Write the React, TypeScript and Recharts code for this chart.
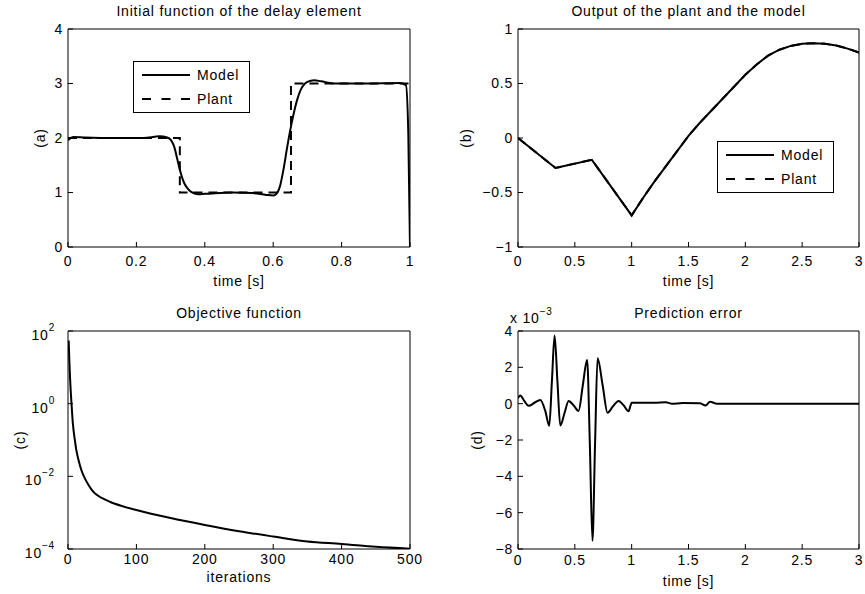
import { Legend, Line, LineChart, XAxis, YAxis } from "recharts";

const FONT = '"Liberation Sans", Arial, Helvetica, sans-serif';
const INK = "#000";
const H = 297;

// (a) initial function of the delay element
const timeA = [0, 0.015, 0.05, 0.14, 0.22, 0.268, 0.29, 0.3, 0.31, 0.32, 0.33, 0.34, 0.35, 0.36, 0.38, 0.4, 0.48, 0.54, 0.58, 0.6, 0.61, 0.62, 0.63, 0.64, 0.65, 0.66, 0.67, 0.68, 0.69, 0.7, 0.72, 0.74, 0.78, 0.87, 0.97, 0.988, 0.995, 1];
const modelA = [1.96, 2.02, 2.01, 2.0, 2.0, 2.03, 2.01, 1.97, 1.85, 1.6, 1.35, 1.17, 1.07, 1.01, 0.97, 0.975, 1.0, 0.99, 0.955, 0.945, 0.98, 1.12, 1.42, 1.8, 2.15, 2.45, 2.7, 2.88, 2.98, 3.03, 3.06, 3.04, 3.0, 3.0, 3.01, 2.97, 2.1, 0];
const plantTimeA = [0, 0.327, 0.327, 0.652, 0.652, 1];
const plantA = [2, 2, 1, 1, 3, 3];

// (b) output of the plant and the model
const timeB = [0, 0.33, 0.65, 1.0, 1.1, 1.2, 1.3, 1.4, 1.5, 1.6, 1.7, 1.8, 1.9, 2.0, 2.1, 2.2, 2.3, 2.4, 2.5, 2.6, 2.7, 2.8, 2.9, 3.0];
const modelB = [0, -0.275, -0.2, -0.71, -0.55, -0.4, -0.26, -0.12, 0.02, 0.14, 0.25, 0.36, 0.47, 0.58, 0.675, 0.755, 0.81, 0.845, 0.864, 0.87, 0.864, 0.848, 0.82, 0.785];
const plantB = [0, -0.275, -0.2, -0.71, -0.55, -0.4, -0.26, -0.12, 0.02, 0.14, 0.25, 0.36, 0.47, 0.58, 0.675, 0.755, 0.81, 0.845, 0.864, 0.87, 0.864, 0.848, 0.82, 0.785];

// (c) objective function
const iterC = [1, 2, 3, 4, 5, 7, 10, 12, 15, 20, 25, 30, 35, 41, 50, 61, 80, 100, 150, 200, 250, 300, 350, 400, 450, 500];
const objC = [55, 15, 5, 2.2, 1.1, 0.3, 0.1, 0.055, 0.03, 0.014, 0.0085, 0.0058, 0.0042, 0.0032, 0.0025, 0.002, 0.0015, 0.00118, 0.00071, 0.00046, 0.00031, 0.00022, 0.00016, 0.000138, 0.000115, 0.000102];

// (d) prediction error, in units of 1e-3
const timeD = [0, 0.02, 0.055, 0.094, 0.145, 0.196, 0.24, 0.275, 0.298, 0.322, 0.347, 0.372, 0.41, 0.445, 0.49, 0.533, 0.57, 0.608, 0.632, 0.655, 0.678, 0.7, 0.745, 0.788, 0.835, 0.885, 0.93, 0.973, 0.99, 1.0, 1.2, 1.3, 1.35, 1.45, 1.6, 1.65, 1.69, 1.75, 2.0, 2.5, 3.0];
const errD = [0.3, 0.45, 0.15, -0.12, 0.05, 0.2, -0.4, -1.22, 1.2, 3.75, 1.2, -1.2, -0.5, 0.15, -0.1, -0.4, 1.0, 2.4, -2.2, -7.55, -2.2, 2.5, 1.0, -0.5, -0.15, 0.15, -0.1, -0.42, -0.1, 0.05, 0.05, 0.08, 0.0, 0.03, 0.02, -0.1, 0.1, 0.0, 0.0, 0.0, 0.0];

const ticksA = [0, 0.2, 0.4, 0.6, 0.8, 1];
const ticksT = [0, 0.5, 1, 1.5, 2, 2.5, 3];
const ticksIter = [0, 100, 200, 300, 400, 500];
const yTicksA = [0, 1, 2, 3, 4];
const yTicksB = [-1, -0.5, 0, 0.5, 1];
const yTicksC = [1e-4, 1e-2, 1, 100];
const yTicksD = [-8, -6, -4, -2, 0, 2, 4];

type Pt = { x: number; y: number };
type Series = { name: string; data: Pt[]; dashed?: boolean; curve: "monotone" | "linear" };

const zip = (xs: number[], ys: number[]): Pt[] => xs.map((x, i) => ({ x, y: ys[i] }));
const fmt = (v: number) => (v < 0 ? `\u2212${Math.abs(v)}` : `${v}`);

const LegendBox = () => (
	<div
		style={{
			width: 117,
			height: 52,
			border: "1px solid #000",
			background: "#fff",
			boxSizing: "border-box",
			position: "relative",
		}}>
		{[
			{ name: "Model", dashed: false },
			{ name: "Plant", dashed: true },
		].map((item, i) => (
			<div
				key={item.name}
				style={{ position: "absolute", left: 8, top: 3 + i * 24, height: 20, display: "flex", alignItems: "center" }}>
				<svg width={48} height={4}>
					<line x1={0} x2={48} y1={2} y2={2} stroke={INK} strokeWidth={2} strokeDasharray={item.dashed ? "9 10.5" : undefined} />
				</svg>
				<span style={{ marginLeft: 7, lineHeight: "20px" }}>{item.name}</span>
			</div>
		))}
	</div>
);

const LogTick = (props: any) => {
	const { x, y, payload } = props;
	const e = Math.round(Math.log10(payload.value));
	return (
		<text x={x - 8} y={y + 4} textAnchor="end" dominantBaseline="central" fill={INK}>
			10
			<tspan dy={-8} fontSize={10}>
				{e < 0 ? `\u2212${-e}` : e}
			</tspan>
		</text>
	);
};

type Spec = {
	x: number;
	y: number;
	w: number;
	plot: [number, number, number, number];
	title: string;
	xLabel: string;
	xTickGap: number;
	xLabelGap: number;
	yLabel: string;
	yLabelDist: number;
	xDomain: [number, number];
	xTicks: number[];
	yDomain: [number, number];
	yTicks: number[];
	log?: boolean;
	exponent?: boolean;
	series: Series[];
	legendAt?: [number, number];
};

const Panel = ({ s }: { s: Spec }) => {
	const [pl, pt, pr, pb] = s.plot;
	const margin = { top: pt, left: pl - 60, right: s.w - pr, bottom: H - pb - 25 };
	const yScale = s.log ? "log" : "linear";
	const yLabelContent = (props: any) => {
		const vb = props.viewBox;
		const cx = vb.x + vb.width - s.yLabelDist;
		const cy = vb.y + vb.height / 2;
		return (
			<g>
				<text x={cx} y={cy} transform={`rotate(-90 ${cx} ${cy})`} textAnchor="middle" dominantBaseline="central" fill={INK}>
					{s.yLabel}
				</text>
				{s.exponent && (
					<text x={vb.x + vb.width - 8} y={vb.y - 8} fill={INK}>
						x 10
						<tspan dy={-8} fontSize={10}>
							{"\u22123"}
						</tspan>
					</text>
				)}
			</g>
		);
	};
	return (
		<div style={{ position: "absolute", left: s.x, top: s.y, width: s.w, height: H }}>
			<div
				style={{
					position: "absolute",
					left: pl,
					width: pr - pl,
					top: pt - 27,
					lineHeight: "18px",
					textAlign: "center",
				}}>
				{s.title}
			</div>
			<LineChart width={s.w} height={H} margin={margin}>
				<XAxis
					xAxisId="b"
					dataKey="x"
					type="number"
					domain={s.xDomain}
					ticks={s.xTicks}
					interval={0}
					allowDataOverflow
					tickFormatter={fmt}
					tickSize={-5}
					tickMargin={s.xTickGap}
					stroke={INK}
					tick={{ fill: INK }}
					height={25}
					label={{ value: s.xLabel, position: "bottom", offset: s.xLabelGap, fill: INK }}
				/>
				{/* mirrored twins close the box and carry the inward ticks on top and right */}
				<XAxis
					xAxisId="t"
					orientation="top"
					mirror
					dataKey="x"
					type="number"
					domain={s.xDomain}
					ticks={s.xTicks}
					interval={0}
					allowDataOverflow
					tick={false}
					tickSize={5}
					stroke={INK}
				/>
				<YAxis
					yAxisId="l"
					dataKey="y"
					type="number"
					scale={yScale}
					domain={s.yDomain}
					ticks={s.yTicks}
					interval={0}
					allowDataOverflow
					tickFormatter={fmt}
					tickSize={-5}
					tickMargin={10}
					stroke={INK}
					tick={s.log ? (p: any) => <LogTick {...p} /> : { fill: INK }}
					width={60}
					label={yLabelContent}
				/>
				<YAxis
					yAxisId="r"
					orientation="right"
					mirror
					dataKey="y"
					type="number"
					scale={yScale}
					domain={s.yDomain}
					ticks={s.yTicks}
					interval={0}
					allowDataOverflow
					tick={false}
					tickSize={5}
					stroke={INK}
				/>
				<Line
					xAxisId="t"
					yAxisId="r"
					data={s.series[0].data}
					dataKey="y"
					stroke="none"
					dot={false}
					activeDot={false}
					legendType="none"
					isAnimationActive={false}
				/>
				{s.series.map((ser) => (
					<Line
						key={ser.name}
						xAxisId="b"
						yAxisId="l"
						data={ser.data}
						dataKey="y"
						name={ser.name}
						type={ser.curve}
						stroke={INK}
						strokeWidth={2}
						strokeDasharray={ser.dashed ? "9 6" : undefined}
						dot={false}
						activeDot={false}
						isAnimationActive={false}
					/>
				))}
				{s.legendAt && (
					<Legend
						verticalAlign="middle"
						align="center"
						layout="horizontal"
						wrapperStyle={{ left: s.legendAt[0], top: s.legendAt[1], width: 117, height: 52 }}
						content={() => <LegendBox />}
					/>
				)}
			</LineChart>
		</div>
	);
};

const panels: Spec[] = [
	{
		x: 0,
		y: 0,
		w: 432,
		plot: [68, 29, 410, 247],
		title: "Initial function of the delay element",
		xLabel: "time [s]",
		xTickGap: 14,
		xLabelGap: 4,
		yLabel: "(a)",
		yLabelDist: 28,
		xDomain: [0, 1],
		xTicks: ticksA,
		yDomain: [0, 4],
		yTicks: yTicksA,
		series: [
			{ name: "Plant", data: zip(plantTimeA, plantA), dashed: true, curve: "linear" },
			{ name: "Model", data: zip(timeA, modelA), curve: "monotone" },
		],
		legendAt: [133, 61],
	},
	{
		x: 432,
		y: 0,
		w: 433,
		plot: [86, 29, 427, 247],
		title: "Output of the plant and the model",
		xLabel: "time [s]",
		xTickGap: 14,
		xLabelGap: 4,
		yLabel: "(b)",
		yLabelDist: 52,
		xDomain: [0, 3],
		xTicks: ticksT,
		yDomain: [-1, 1],
		yTicks: yTicksB,
		series: [
			{ name: "Plant", data: zip(timeB, plantB), dashed: true, curve: "linear" },
			{ name: "Model", data: zip(timeB, modelB), curve: "linear" },
		],
		legendAt: [285, 141],
	},
	{
		x: 0,
		y: 297,
		w: 432,
		plot: [68, 34, 410, 252],
		title: "Objective function",
		xLabel: "iterations",
		xTickGap: 10,
		xLabelGap: -2,
		yLabel: "(c)",
		yLabelDist: 48,
		xDomain: [0, 500],
		xTicks: ticksIter,
		yDomain: [1e-4, 100],
		yTicks: yTicksC,
		log: true,
		series: [{ name: "Objective", data: zip(iterC, objC), curve: "monotone" }],
	},
	{
		x: 432,
		y: 297,
		w: 433,
		plot: [86, 34, 427, 252],
		title: "Prediction error",
		xLabel: "time [s]",
		xTickGap: 11,
		xLabelGap: 2,
		yLabel: "(d)",
		yLabelDist: 41,
		xDomain: [0, 3],
		xTicks: ticksT,
		yDomain: [-8, 4],
		yTicks: yTicksD,
		exponent: true,
		series: [{ name: "Error", data: zip(timeD, errD), curve: "monotone" }],
	},
];

export default function App() {
	return (
		<div
			style={{
				position: "absolute",
				left: 0,
				top: 0,
				width: 865,
				height: 594,
				background: "#fff",
				fontFamily: FONT,
				fontSize: 14,
				letterSpacing: "0.8px",
				color: INK,
			}}>
			{panels.map((p) => (
				<Panel key={p.title} s={p} />
			))}
		</div>
	);
}
